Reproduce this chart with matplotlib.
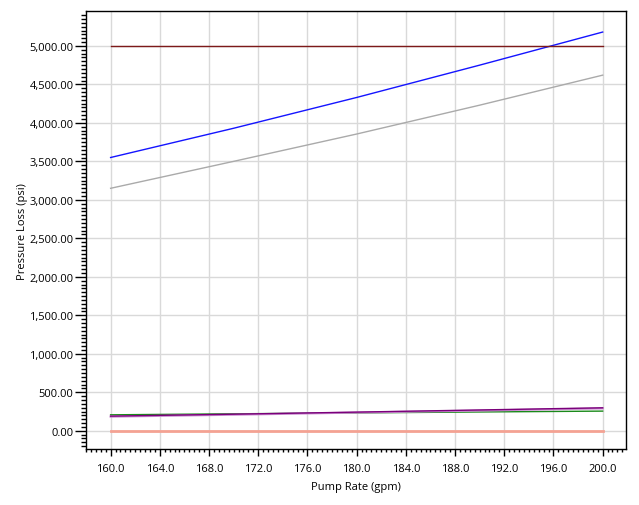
import matplotlib
matplotlib.use("Agg")
import matplotlib.pyplot as plt
from matplotlib.ticker import MultipleLocator, FuncFormatter

# --------------------
# Data
# --------------------
pump_rate = [160, 170, 180, 190, 200]
max_pressure = [5000, 5000, 5000, 5000, 5000]
total_loss = [3550, 3930, 4330, 4750, 5180]
string_loss = [3150, 3500, 3855, 4230, 4620]
annulus_loss = [207, 220, 232, 244, 255]
bit_loss = [190, 215, 242, 270, 298]
bit_loss_alt = [183, 208, 236, 262, 290]
surface_loss = [0, 0, 0, 0, 0]

plt.rcParams["font.family"] = ["Open Sans", "DejaVu Sans"]

fig = plt.figure(figsize=(6.39, 5.06), dpi=100)
ax = fig.add_axes([0.1346, 0.1107, 0.8451, 0.8646])

grid_col = "#d9d9d9"
ax.plot(pump_rate, surface_loss, color="#f4a293", lw=2.0, zorder=3)
ax.plot(pump_rate, annulus_loss, color="#1a8a1a", lw=1.0, zorder=3)
ax.plot(pump_rate, bit_loss_alt, color="#c98bd0", lw=1.5, zorder=3)
ax.plot(pump_rate, bit_loss, color="#7a007a", lw=1.0, zorder=4)
ax.plot(pump_rate, string_loss, color="#aaaaaa", lw=1.0, zorder=3)
ax.plot(pump_rate, total_loss, color="#1414ff", lw=1.0, zorder=3)
ax.plot(pump_rate, max_pressure, color="#7d1a1a", lw=1.0, zorder=3)

ax.set_xlim(158.0, 201.9)
ax.set_ylim(-237, 5447)

ax.xaxis.set_major_locator(MultipleLocator(4))
ax.xaxis.set_minor_locator(MultipleLocator(0.4))
ax.yaxis.set_major_locator(MultipleLocator(500))
ax.yaxis.set_minor_locator(MultipleLocator(50))
ax.xaxis.set_major_formatter(FuncFormatter(lambda v, p: f"{v:.1f}"))
ax.yaxis.set_major_formatter(FuncFormatter(lambda v, p: f"{v:,.2f}"))

ax.grid(True, which="major", color=grid_col, lw=1.0, zorder=0)
ax.set_axisbelow(True)

ax.tick_params(axis="x", which="major", direction="out", length=5, width=1,
               labelsize=8, colors="black", pad=5)
ax.tick_params(axis="y", which="major", direction="out", length=8, width=1,
               labelsize=8, colors="black", pad=1)
ax.tick_params(axis="x", which="minor", direction="out", length=2.5, width=1)
ax.tick_params(axis="y", which="minor", direction="out", length=3.5, width=1)
ax.tick_params(top=False, right=False)

for s in ax.spines.values():
    s.set_color("black")
    s.set_linewidth(1.0)

ax.set_xlabel("Pump Rate (gpm)", fontsize=8, labelpad=5)
ax.set_ylabel("Pressure Loss (psi)", fontsize=8, labelpad=1)

fig.savefig("out.png", dpi=100, facecolor="white")
